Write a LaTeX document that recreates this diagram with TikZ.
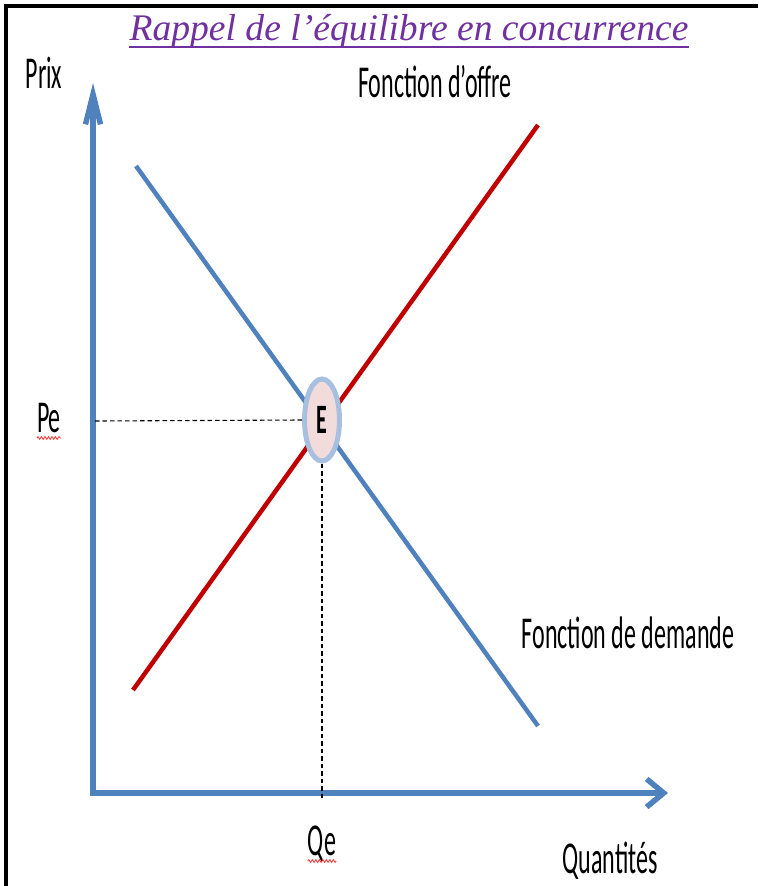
\documentclass[tikz,border=0pt]{standalone}
\usepackage{fontspec}
\usepackage{graphicx}
\setmainfont{Liberation Serif}
\newfontfamily\labfont{Carlito}
\usetikzlibrary{arrows.meta,shapes.geometric,decorations.pathmorphing}
\definecolor{axisblue}{HTML}{4F81BD}
\definecolor{supplyred}{HTML}{C00000}
\definecolor{titlepurple}{HTML}{7030A0}
\definecolor{eqfill}{HTML}{F2DCDB}
\definecolor{eqborder}{HTML}{A7C0E0}
\newcommand{\tallsans}[1]{\scalebox{1}[1.9]{\labfont #1}}
\tikzset{
    lab/.style={
        anchor=base, inner sep=0pt,
        font=\fontsize{24}{28}\selectfont
    },
    curve/.style={line width=4.5pt},
    guide/.style={black, line width=1.1pt, dash pattern=on 4.5pt off 3pt},
    squiggle/.style={
        red!80, line width=0.8pt, decorate,
        decoration={snake, amplitude=1.4pt, segment length=3.5pt}
    }
}

\begin{document}
\begin{tikzpicture}[x=1pt,y=-1pt, line join=miter]

\useasboundingbox (0,0) rectangle (758,886);

% frame
\draw[line width=4pt] (6,886) -- (6,6) -- (758,6);

% title
\node[anchor=base, inner sep=0pt, text=titlepurple,
      font=\fontsize{37.6}{44}\selectfont\itshape] (title) at (409,40)
      {Rappel de l’équilibre en concurrence};
\draw[titlepurple, line width=2pt] ([yshift=-7pt]title.base west) -- ([yshift=-7pt]title.base east);

% axes
\coordinate (origin) at (93,793);
\coordinate (ytip) at (93,83);
\coordinate (xtip) at (668,793);
\draw[axisblue, line width=5.5pt,
      {Straight Barb[length=30pt,width=15pt]}-{Straight Barb[length=17pt,width=28pt]}]
      (ytip) -- (origin) -- (xtip);

% demand and supply
\coordinate (dtop) at (136,166);
\coordinate (dbot) at (538,726);
\coordinate (sbot) at (133,690);
\coordinate (stop) at (538,125);
\draw[axisblue, curve] (dtop) -- (dbot);
\draw[supplyred, curve] (sbot) -- (stop);

% equilibrium
\node[ellipse, draw=eqborder, fill=eqfill, line width=5pt, inner sep=0pt,
      minimum width=35pt, minimum height=82pt,
      font=\fontsize{22}{26}\selectfont] (E) at (322,420) {\tallsans{\bfseries E}};

\coordinate (pe) at (95,421);
\coordinate (qe) at (322,799);
\draw[guide] (pe) -- (E.west);
\draw[guide] (E.south) -- (qe);

% labels
\node[lab] (prix) at (44,88) {\tallsans{Prix}};
\node[lab] (offre) at (435,97) {\tallsans{Fonction d’offre}};
\node[lab] (demande) at (628,648) {\tallsans{Fonction de demande}};
\node[lab] (quantites) at (610,873) {\tallsans{Quantités}};
\node[lab] (pelab) at (49,432) {\tallsans{Pe}};
\node[lab] (qelab) at (322,855) {\tallsans{Qe}};

\draw[squiggle] ([yshift=-6pt]pelab.base west) -- ([yshift=-6pt]pelab.base east);
\draw[squiggle] ([yshift=-6pt]qelab.base west) -- ([yshift=-6pt]qelab.base east);

\end{tikzpicture}
\end{document}
